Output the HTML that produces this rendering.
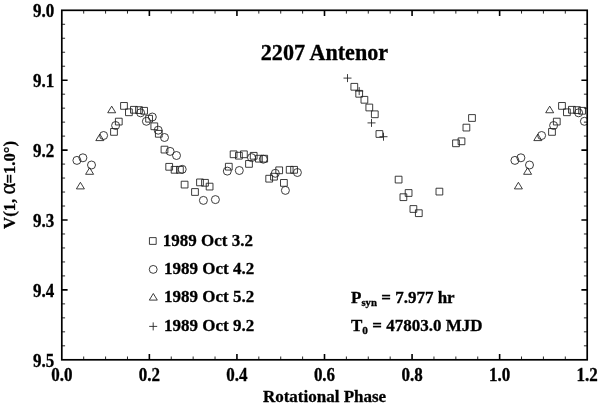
<!DOCTYPE html>
<html lang="en">
<head>
<meta charset="utf-8">
<title>2207 Antenor</title>
<style>
html,body{margin:0;padding:0;background:#fff;}
body{width:600px;height:406px;overflow:hidden;}
svg{display:block;}
text{font-family:"Liberation Serif","DejaVu Serif",serif;font-weight:bold;fill:#000;stroke:#000;stroke-width:0.3px;}
.t17{font-size:17px;}
</style>
</head>
<body>
<svg width="600" height="406" viewBox="0 0 600 406">
<rect x="0" y="0" width="600" height="406" fill="#fff"/>
<defs><clipPath id="pa"><rect x="61.8" y="10.3" width="525.40" height="349.50"/></clipPath></defs>
<g fill="none" stroke="#222" stroke-width="0.88" stroke-linejoin="round" clip-path="url(#pa)">
<rect x="110.62" y="128.53" width="6.75" height="6.75"/>
<rect x="115.42" y="118.22" width="6.75" height="6.75"/>
<rect x="120.62" y="102.53" width="6.75" height="6.75"/>
<rect x="125.53" y="108.92" width="6.75" height="6.75"/>
<rect x="130.53" y="106.42" width="6.75" height="6.75"/>
<rect x="135.62" y="106.72" width="6.75" height="6.75"/>
<rect x="140.72" y="107.42" width="6.75" height="6.75"/>
<rect x="145.72" y="115.33" width="6.75" height="6.75"/>
<rect x="150.93" y="122.92" width="6.75" height="6.75"/>
<rect x="155.43" y="130.43" width="6.75" height="6.75"/>
<rect x="161.12" y="146.22" width="6.75" height="6.75"/>
<rect x="165.82" y="163.43" width="6.75" height="6.75"/>
<rect x="171.22" y="166.43" width="6.75" height="6.75"/>
<rect x="176.53" y="166.43" width="6.75" height="6.75"/>
<rect x="181.22" y="181.22" width="6.75" height="6.75"/>
<rect x="191.62" y="188.62" width="6.75" height="6.75"/>
<rect x="196.62" y="179.03" width="6.75" height="6.75"/>
<rect x="201.62" y="179.43" width="6.75" height="6.75"/>
<rect x="206.22" y="183.22" width="6.75" height="6.75"/>
<rect x="225.43" y="163.32" width="6.75" height="6.75"/>
<rect x="230.22" y="150.93" width="6.75" height="6.75"/>
<rect x="235.53" y="152.32" width="6.75" height="6.75"/>
<rect x="240.53" y="150.93" width="6.75" height="6.75"/>
<rect x="245.62" y="160.53" width="6.75" height="6.75"/>
<rect x="250.32" y="152.43" width="6.75" height="6.75"/>
<rect x="255.52" y="155.32" width="6.75" height="6.75"/>
<rect x="260.82" y="155.32" width="6.75" height="6.75"/>
<rect x="265.82" y="175.32" width="6.75" height="6.75"/>
<rect x="270.62" y="173.32" width="6.75" height="6.75"/>
<rect x="275.82" y="166.93" width="6.75" height="6.75"/>
<rect x="280.52" y="179.53" width="6.75" height="6.75"/>
<rect x="286.32" y="166.43" width="6.75" height="6.75"/>
<rect x="290.73" y="166.43" width="6.75" height="6.75"/>
<rect x="350.93" y="83.42" width="6.75" height="6.75"/>
<rect x="355.82" y="90.42" width="6.75" height="6.75"/>
<rect x="361.02" y="96.42" width="6.75" height="6.75"/>
<rect x="365.93" y="104.12" width="6.75" height="6.75"/>
<rect x="371.43" y="110.92" width="6.75" height="6.75"/>
<rect x="376.02" y="130.62" width="6.75" height="6.75"/>
<rect x="395.23" y="176.22" width="6.75" height="6.75"/>
<rect x="400.02" y="193.82" width="6.75" height="6.75"/>
<rect x="405.23" y="189.62" width="6.75" height="6.75"/>
<rect x="410.02" y="205.62" width="6.75" height="6.75"/>
<rect x="415.43" y="209.82" width="6.75" height="6.75"/>
<rect x="436.02" y="188.22" width="6.75" height="6.75"/>
<rect x="452.62" y="139.93" width="6.75" height="6.75"/>
<rect x="458.12" y="137.93" width="6.75" height="6.75"/>
<rect x="463.02" y="124.22" width="6.75" height="6.75"/>
<rect x="468.62" y="114.62" width="6.75" height="6.75"/>
<rect x="548.62" y="128.53" width="6.75" height="6.75"/>
<rect x="553.42" y="118.22" width="6.75" height="6.75"/>
<rect x="558.62" y="102.53" width="6.75" height="6.75"/>
<rect x="563.52" y="108.92" width="6.75" height="6.75"/>
<rect x="568.52" y="106.42" width="6.75" height="6.75"/>
<rect x="573.62" y="106.72" width="6.75" height="6.75"/>
<rect x="578.73" y="107.42" width="6.75" height="6.75"/>
<circle cx="76.90" cy="160.40" r="4.0"/>
<circle cx="82.90" cy="157.80" r="4.0"/>
<circle cx="91.50" cy="165.00" r="4.0"/>
<circle cx="103.60" cy="135.50" r="4.0"/>
<circle cx="115.60" cy="125.50" r="4.0"/>
<circle cx="140.60" cy="112.80" r="4.0"/>
<circle cx="146.40" cy="121.30" r="4.0"/>
<circle cx="152.30" cy="117.00" r="4.0"/>
<circle cx="158.20" cy="130.20" r="4.0"/>
<circle cx="164.50" cy="137.50" r="4.0"/>
<circle cx="170.10" cy="151.40" r="4.0"/>
<circle cx="176.50" cy="155.50" r="4.0"/>
<circle cx="182.20" cy="169.30" r="4.0"/>
<circle cx="203.40" cy="200.40" r="4.0"/>
<circle cx="215.40" cy="199.60" r="4.0"/>
<circle cx="227.30" cy="171.10" r="4.0"/>
<circle cx="239.30" cy="170.50" r="4.0"/>
<circle cx="251.50" cy="157.60" r="4.0"/>
<circle cx="263.30" cy="159.20" r="4.0"/>
<circle cx="275.30" cy="173.30" r="4.0"/>
<circle cx="285.40" cy="190.40" r="4.0"/>
<circle cx="297.40" cy="172.50" r="4.0"/>
<circle cx="514.90" cy="160.40" r="4.0"/>
<circle cx="520.90" cy="157.80" r="4.0"/>
<circle cx="529.50" cy="165.00" r="4.0"/>
<circle cx="541.60" cy="135.50" r="4.0"/>
<circle cx="553.60" cy="125.50" r="4.0"/>
<circle cx="578.60" cy="112.80" r="4.0"/>
<circle cx="584.40" cy="121.30" r="4.0"/>
<path d="M111.70 106.15L115.70 112.75H107.70Z"/>
<path d="M99.80 134.00L103.80 140.60H95.80Z"/>
<path d="M89.60 167.70L93.60 174.30H85.60Z"/>
<path d="M80.40 182.30L84.40 188.90H76.40Z"/>
<path d="M549.70 106.15L553.70 112.75H545.70Z"/>
<path d="M537.80 134.00L541.80 140.60H533.80Z"/>
<path d="M527.60 167.70L531.60 174.30H523.60Z"/>
<path d="M518.40 182.30L522.40 188.90H514.40Z"/>
<path d="M343.50 78.10H351.50M347.50 74.10V82.10"/>
<path d="M355.20 91.10H363.20M359.20 87.10V95.10"/>
<path d="M367.50 122.90H375.50M371.50 118.90V126.90"/>
<path d="M379.50 136.70H387.50M383.50 132.70V140.70"/>
</g>
<g fill="none" stroke="#000">
<path d="M83.69 359.8v-3.3M83.69 10.3v3.3" stroke-width="0.85"/>
<path d="M105.58 359.8v-3.3M105.58 10.3v3.3" stroke-width="0.85"/>
<path d="M127.48 359.8v-3.3M127.48 10.3v3.3" stroke-width="0.85"/>
<path d="M149.37 359.8v-5.8M149.37 10.3v5.8" stroke-width="1.6"/>
<path d="M171.26 359.8v-3.3M171.26 10.3v3.3" stroke-width="0.85"/>
<path d="M193.15 359.8v-3.3M193.15 10.3v3.3" stroke-width="0.85"/>
<path d="M215.04 359.8v-3.3M215.04 10.3v3.3" stroke-width="0.85"/>
<path d="M236.93 359.8v-5.8M236.93 10.3v5.8" stroke-width="1.6"/>
<path d="M258.82 359.8v-3.3M258.82 10.3v3.3" stroke-width="0.85"/>
<path d="M280.72 359.8v-3.3M280.72 10.3v3.3" stroke-width="0.85"/>
<path d="M302.61 359.8v-3.3M302.61 10.3v3.3" stroke-width="0.85"/>
<path d="M324.50 359.8v-5.8M324.50 10.3v5.8" stroke-width="1.6"/>
<path d="M346.39 359.8v-3.3M346.39 10.3v3.3" stroke-width="0.85"/>
<path d="M368.28 359.8v-3.3M368.28 10.3v3.3" stroke-width="0.85"/>
<path d="M390.18 359.8v-3.3M390.18 10.3v3.3" stroke-width="0.85"/>
<path d="M412.07 359.8v-5.8M412.07 10.3v5.8" stroke-width="1.6"/>
<path d="M433.96 359.8v-3.3M433.96 10.3v3.3" stroke-width="0.85"/>
<path d="M455.85 359.8v-3.3M455.85 10.3v3.3" stroke-width="0.85"/>
<path d="M477.74 359.8v-3.3M477.74 10.3v3.3" stroke-width="0.85"/>
<path d="M499.63 359.8v-5.8M499.63 10.3v5.8" stroke-width="1.6"/>
<path d="M521.53 359.8v-3.3M521.53 10.3v3.3" stroke-width="0.85"/>
<path d="M543.42 359.8v-3.3M543.42 10.3v3.3" stroke-width="0.85"/>
<path d="M565.31 359.8v-3.3M565.31 10.3v3.3" stroke-width="0.85"/>
<path d="M61.8 24.28h3.3M587.2 24.28h-3.3" stroke-width="0.85"/>
<path d="M61.8 38.26h3.3M587.2 38.26h-3.3" stroke-width="0.85"/>
<path d="M61.8 52.24h3.3M587.2 52.24h-3.3" stroke-width="0.85"/>
<path d="M61.8 66.22h3.3M587.2 66.22h-3.3" stroke-width="0.85"/>
<path d="M61.8 80.20h5.8M587.2 80.20h-5.8" stroke-width="1.6"/>
<path d="M61.8 94.18h3.3M587.2 94.18h-3.3" stroke-width="0.85"/>
<path d="M61.8 108.16h3.3M587.2 108.16h-3.3" stroke-width="0.85"/>
<path d="M61.8 122.14h3.3M587.2 122.14h-3.3" stroke-width="0.85"/>
<path d="M61.8 136.12h3.3M587.2 136.12h-3.3" stroke-width="0.85"/>
<path d="M61.8 150.10h5.8M587.2 150.10h-5.8" stroke-width="1.6"/>
<path d="M61.8 164.08h3.3M587.2 164.08h-3.3" stroke-width="0.85"/>
<path d="M61.8 178.06h3.3M587.2 178.06h-3.3" stroke-width="0.85"/>
<path d="M61.8 192.04h3.3M587.2 192.04h-3.3" stroke-width="0.85"/>
<path d="M61.8 206.02h3.3M587.2 206.02h-3.3" stroke-width="0.85"/>
<path d="M61.8 220.00h5.8M587.2 220.00h-5.8" stroke-width="1.6"/>
<path d="M61.8 233.98h3.3M587.2 233.98h-3.3" stroke-width="0.85"/>
<path d="M61.8 247.96h3.3M587.2 247.96h-3.3" stroke-width="0.85"/>
<path d="M61.8 261.94h3.3M587.2 261.94h-3.3" stroke-width="0.85"/>
<path d="M61.8 275.92h3.3M587.2 275.92h-3.3" stroke-width="0.85"/>
<path d="M61.8 289.90h5.8M587.2 289.90h-5.8" stroke-width="1.6"/>
<path d="M61.8 303.88h3.3M587.2 303.88h-3.3" stroke-width="0.85"/>
<path d="M61.8 317.86h3.3M587.2 317.86h-3.3" stroke-width="0.85"/>
<path d="M61.8 331.84h3.3M587.2 331.84h-3.3" stroke-width="0.85"/>
<path d="M61.8 345.82h3.3M587.2 345.82h-3.3" stroke-width="0.85"/>
<rect x="61.8" y="10.3" width="525.40" height="349.50" stroke-width="1.7"/>
</g>
<g>
<text transform="translate(61.8 381.2) scale(1 1.05)" font-size="17" text-anchor="middle">0.0</text>
<text transform="translate(149.4 381.2) scale(1 1.05)" font-size="17" text-anchor="middle">0.2</text>
<text transform="translate(236.9 381.2) scale(1 1.05)" font-size="17" text-anchor="middle">0.4</text>
<text transform="translate(324.5 381.2) scale(1 1.05)" font-size="17" text-anchor="middle">0.6</text>
<text transform="translate(412.1 381.2) scale(1 1.05)" font-size="17" text-anchor="middle">0.8</text>
<text transform="translate(499.6 381.2) scale(1 1.05)" font-size="17" text-anchor="middle">1.0</text>
<text transform="translate(587.2 381.2) scale(1 1.05)" font-size="17" text-anchor="middle">1.2</text>
<text transform="translate(54.3 17.0) scale(1 1.05)" font-size="17" text-anchor="end">9.0</text>
<text transform="translate(54.3 86.9) scale(1 1.05)" font-size="17" text-anchor="end">9.1</text>
<text transform="translate(54.3 156.8) scale(1 1.05)" font-size="17" text-anchor="end">9.2</text>
<text transform="translate(54.3 226.7) scale(1 1.05)" font-size="17" text-anchor="end">9.3</text>
<text transform="translate(54.3 296.6) scale(1 1.05)" font-size="17" text-anchor="end">9.4</text>
<text transform="translate(54.3 366.5) scale(1 1.05)" font-size="17" text-anchor="end">9.5</text>
<text transform="translate(324.5 401.5) scale(1 1.0)" font-size="17" text-anchor="middle">Rotational Phase</text>
<text transform="translate(14.7 228.9) rotate(-90) scale(0.982 1.0)" font-size="17">V(1, <tspan font-size="23" font-weight="normal">α</tspan><tspan dx="-0.8">=1.0°)</tspan></text>
<text transform="translate(162.8 245.9) scale(1 0.98)" font-size="17">1989 Oct 3.2</text>
<text transform="translate(164.0 274.3) scale(1 0.98)" font-size="17">1989 Oct 4.2</text>
<text transform="translate(164.0 302.2) scale(1 0.98)" font-size="17">1989 Oct 5.2</text>
<text transform="translate(164.0 331.1) scale(1 0.98)" font-size="17">1989 Oct 9.2</text>
<text transform="translate(351.0 302.8) scale(1 0.98)" font-size="17">P<tspan font-size="10.8" dy="3">syn</tspan><tspan dy="-3"> = 7.977 hr</tspan></text>
<text transform="translate(351.0 331.0) scale(1 0.98)" font-size="17">T<tspan font-size="11.3" dy="3">0</tspan><tspan dy="-3"> = 47803.0 MJD</tspan></text>
<text transform="translate(260.8 59.6) scale(1 1.06)" font-size="22.15">2207 Antenor</text>
</g>
<g fill="none" stroke="#222" stroke-width="0.88" stroke-linejoin="round">
<rect x="149.43" y="237.62" width="6.75" height="6.75"/>
<circle cx="153.2" cy="269.4" r="3.95"/>
<path d="M153.30 293.50L157.30 300.10H149.30Z"/>
<path d="M149.20 326.40H157.20M153.20 322.40V330.40"/>
</g>
</svg>
</body>
</html>
